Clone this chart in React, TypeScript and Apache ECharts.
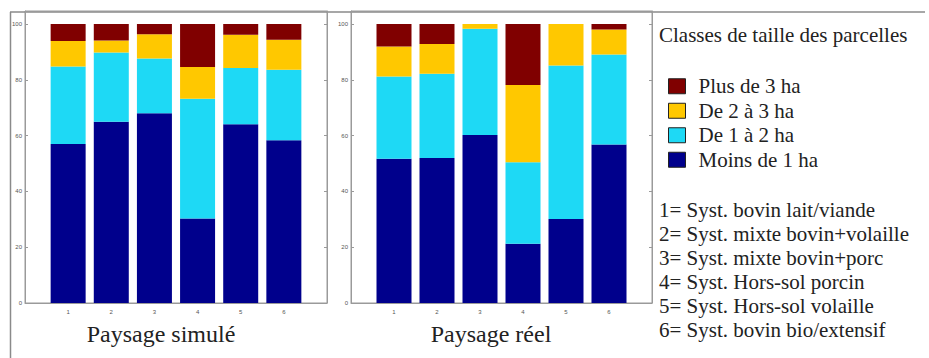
import React, { useEffect, useRef } from "react";
import * as echarts from "echarts";

const xCategories = ["0", "1", "2", "3", "4", "5", "6", "7"];
const xTickLabels = ["1", "2", "3", "4", "5", "6"];
const classNames = ["Moins de 1 ha", "De 1 à 2 ha", "De 2 à 3 ha", "Plus de 3 ha"];
const classColors = ["#00008C", "#1ED9F5", "#FFC800", "#800000"];

// Paysage simulé
const simMoins1 = [57.0, 65.0, 68.0, 30.3, 64.1, 58.4];
const sim1a2 = [27.8, 24.8, 19.7, 42.9, 20.2, 25.2];
const sim2a3 = [9.1, 4.3, 8.7, 11.4, 11.9, 10.8];
const simPlus3 = [6.1, 5.9, 3.6, 15.4, 3.8, 5.6];

// Paysage réel
const reelMoins1 = [51.7, 52.0, 60.2, 21.2, 30.1, 56.8];
const reel1a2 = [29.5, 30.2, 38.1, 29.3, 55.1, 32.3];
const reel2a3 = [10.8, 10.7, 1.7, 27.7, 14.8, 9.0];
const reelPlus3 = [8.0, 7.1, 0.0, 21.8, 0.0, 1.9];

const panelTitles = ["Paysage simulé", "Paysage réel"];
const legendTitle = "Classes de taille des parcelles";
const systems = [
  "1= Syst. bovin lait/viande",
  "2= Syst. mixte bovin+volaille",
  "3= Syst. mixte bovin+porc",
  "4= Syst. Hors-sol porcin",
  "5= Syst. Hors-sol volaille",
  "6= Syst. bovin bio/extensif",
];

const FONT = "'Liberation Serif', 'DejaVu Serif', serif";
const TEXT = "#222222";
const AXIS = "#9a9a9a";

export default function App() {
  const ref = useRef<HTMLDivElement>(null);
  useEffect(() => {
    if (!ref.current) return;
    const chart = echarts.init(ref.current, undefined, { renderer: "svg" });
    const panels = [
      [simMoins1, sim1a2, sim2a3, simPlus3],
      [reelMoins1, reel1a2, reel2a3, reelPlus3],
    ];
    const grids = [
      { left: 25, top: 11, width: 302, height: 292 },
      { left: 351, top: 11, width: 301, height: 292 },
    ];
    const xAxis: any[] = [];
    const yAxis: any[] = [];
    const series: any[] = [];
    grids.forEach((g, gi) => {
      xAxis.push({
        type: "category",
        gridIndex: gi,
        data: xCategories,
        boundaryGap: false,
        splitLine: { show: false },
        axisLine: { lineStyle: { color: AXIS } },
        axisTick: { inside: true, length: 3, lineStyle: { color: AXIS } },
        axisLabel: {
          fontSize: 6,
          color: "#555",
          margin: 6,
          interval: 0,
          formatter: (v: string) => (xTickLabels.indexOf(v) >= 0 ? v : ""),
        },
      });
      yAxis.push({
        type: "value",
        gridIndex: gi,
        min: 0,
        max: 104.7,
        interval: 20,
        splitLine: { show: false },
        axisLine: { show: true, lineStyle: { color: AXIS } },
        axisTick: { show: true, inside: true, length: 3, lineStyle: { color: AXIS } },
        axisLabel: { fontSize: 6, color: "#555", margin: 3, showMaxLabel: false },
      });
      panels[gi].forEach((vals, si) => {
        series.push({
          type: "bar",
          name: classNames[si],
          xAxisIndex: gi,
          yAxisIndex: gi,
          stack: "p" + gi,
          barWidth: 35,
          itemStyle: { color: classColors[si] },
          data: ["-", ...vals, "-"],
        });
      });
    });
    grids.forEach((g, gi) => {
      yAxis.push({
        type: "value",
        gridIndex: gi,
        position: "right",
        min: 0,
        max: 104.7,
        interval: 20,
        splitLine: { show: false },
        axisLine: { show: true, lineStyle: { color: AXIS } },
        axisTick: { show: true, inside: true, length: 3, lineStyle: { color: AXIS } },
        axisLabel: { show: false },
      });
    });

    const graphic: any[] = [
      { type: "line", shape: { x1: 10.5, y1: 12, x2: 10.5, y2: 358 }, style: { stroke: "#8a8a8a", lineWidth: 1.5 } },
      { type: "line", shape: { x1: 10, y1: 12, x2: 925, y2: 12 }, style: { stroke: "#8a8a8a", lineWidth: 1.5 } },
      {
        type: "text",
        left: 659,
        top: 24,
        style: { text: legendTitle, font: `21px ${FONT}`, fill: TEXT },
      },
      ...panelTitles.map((t, i) => ({
        type: "text",
        x: i === 0 ? 161 : 491,
        y: 334,
        style: {
          text: t,
          font: `24px ${FONT}`,
          fill: TEXT,
          textAlign: "center",
          textVerticalAlign: "middle",
        },
      })),
      ...systems.map((t, i) => ({
        type: "text",
        x: 659,
        y: 210 + i * 24,
        style: { text: t, font: `21px ${FONT}`, fill: TEXT, textVerticalAlign: "middle" },
      })),
    ];

    chart.setOption({
      animation: false,
      backgroundColor: "#ffffff",
      grid: grids.map((g) => ({ ...g, show: true, borderColor: AXIS, borderWidth: 1, backgroundColor: "transparent" })),
      xAxis,
      yAxis,
      series,
      legend: {
        data: [classNames[3], classNames[2], classNames[1], classNames[0]],
        orient: "vertical",
        left: 668,
        top: 74,
        padding: 0,
        itemWidth: 17,
        itemHeight: 15,
        itemGap: 0,
        icon: "rect",
        selectedMode: false,
        itemStyle: { borderColor: "#222", borderWidth: 1 },
        textStyle: { fontFamily: FONT, fontSize: 21, color: TEXT, lineHeight: 24.5, padding: [0, 0, 0, 8] },
      },
      graphic,
    });
    return () => chart.dispose();
  }, []);
  return (
    <div
      ref={ref}
      style={{ position: "fixed", left: 0, top: 0, width: 929, height: 358, background: "#fff" }}
    />
  );
}
